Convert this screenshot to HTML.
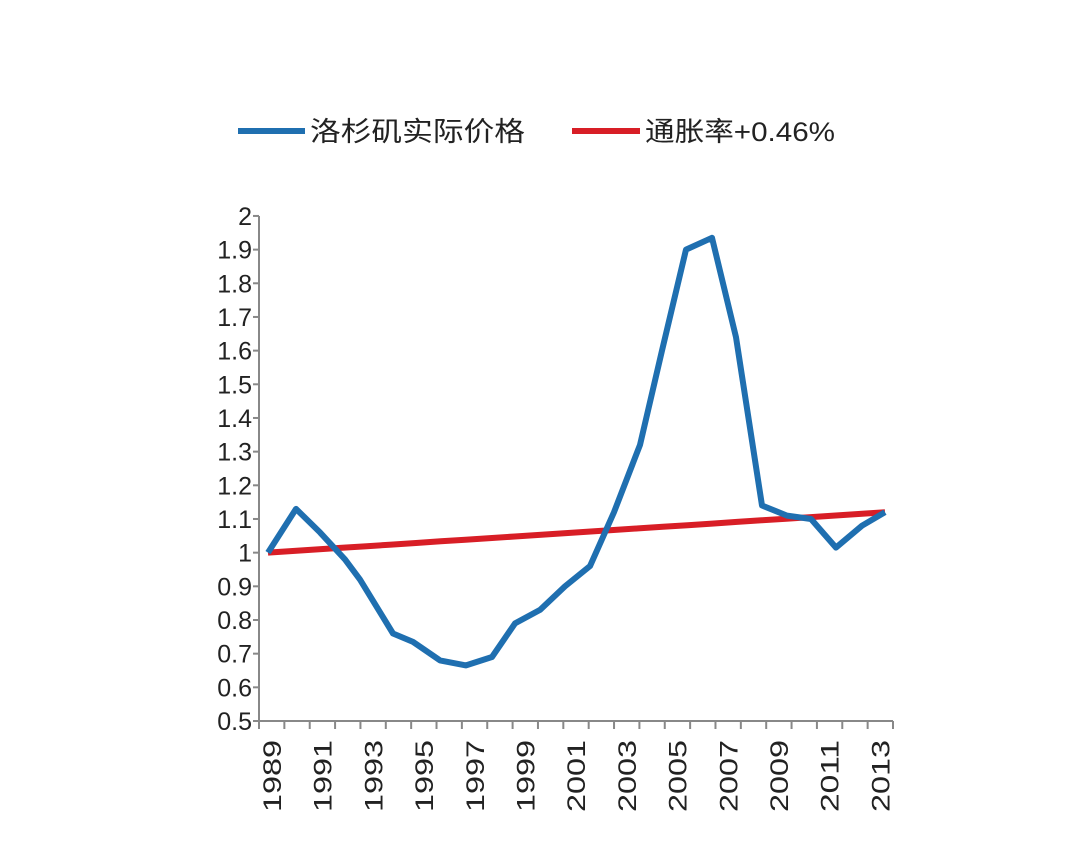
<!DOCTYPE html>
<html><head><meta charset="utf-8"><style>
body{margin:0;background:#fff;}
svg text{font-family:"Liberation Sans","Noto Sans CJK SC",sans-serif;fill:#222;}
</style></head><body>
<svg width="1080" height="858" viewBox="0 0 1080 858" xmlns="http://www.w3.org/2000/svg">
<line x1="238" y1="131" x2="305" y2="131" stroke="#1f6fb0" stroke-width="6"/>
<text x="310" y="141" font-size="27" textLength="215" lengthAdjust="spacingAndGlyphs">洛杉矶实际价格</text>
<line x1="572" y1="131" x2="640" y2="131" stroke="#d81e26" stroke-width="6"/>
<text x="645" y="141" font-size="27" textLength="190" lengthAdjust="spacingAndGlyphs">通胀率+0.46%</text>
<g stroke="#888" stroke-width="2">
<line x1="259" y1="216" x2="259" y2="721"/>
<line x1="259" y1="721" x2="893" y2="721"/>
</g>
<g id="yt" font-size="25" text-anchor="end"></g>
<g id="xt" font-size="25"></g>
<g id="tk" stroke="#888" stroke-width="2"></g>
<polyline id="red" fill="none" stroke="#d81e26" stroke-width="6" stroke-linejoin="round"/>
<polyline id="blue" fill="none" stroke="#1f6fb0" stroke-width="6" stroke-linejoin="round"/>
<script>
var Y=v=>721-(v-0.5)*336.7;
var ns="http://www.w3.org/2000/svg";
var yt=document.getElementById('yt');
for(var i=0;i<=15;i++){var v=0.5+i*0.1;var t=document.createElementNS(ns,'text');t.setAttribute('x',252);t.setAttribute('y',Y(v)+9);t.textContent=(Math.round(v*10)/10).toString();yt.appendChild(t);
var l=document.createElementNS(ns,'line');l.setAttribute('x1',253);l.setAttribute('x2',259);l.setAttribute('y1',Y(v));l.setAttribute('y2',Y(v));document.getElementById('tk').appendChild(l);}
for(var i=0;i<=25;i++){var x=259+i*25.36;var l=document.createElementNS(ns,'line');l.setAttribute('x1',x);l.setAttribute('x2',x);l.setAttribute('y1',721);l.setAttribute('y2',729);document.getElementById('tk').appendChild(l);}
var xt=document.getElementById('xt');
for(var k=0;k<13;k++){var yr=1989+2*k;var x=272+k*50.7+9;var t=document.createElementNS(ns,'text');t.setAttribute('transform','translate('+x+',812) rotate(-90)');t.setAttribute('textLength',72);t.setAttribute('lengthAdjust','spacingAndGlyphs');t.textContent=yr;xt.appendChild(t);}
var b=[[268,1.0],[296,1.13],[320,1.06],[345,0.98],[360,0.92],[393,0.76],[413,0.735],[440,0.68],[466,0.665],[492,0.69],[515,0.79],[540,0.83],[565,0.9],[590,0.96],[614,1.12],[640,1.32],[662,1.6],[686,1.9],[712,1.935],[736,1.64],[762,1.14],[787,1.11],[811,1.1],[836,1.015],[862,1.08],[885,1.12]];
document.getElementById('blue').setAttribute('points',b.map(p=>p[0]+','+Y(p[1]).toFixed(1)).join(' '));
var r=[];for(var i=0;i<=25;i++){var x=268+i*(617/25);r.push(x+','+Y(1.0+0.12*i/25).toFixed(1));}
document.getElementById('red').setAttribute('points',r.join(' '));
</script>
</svg>
</body></html>
